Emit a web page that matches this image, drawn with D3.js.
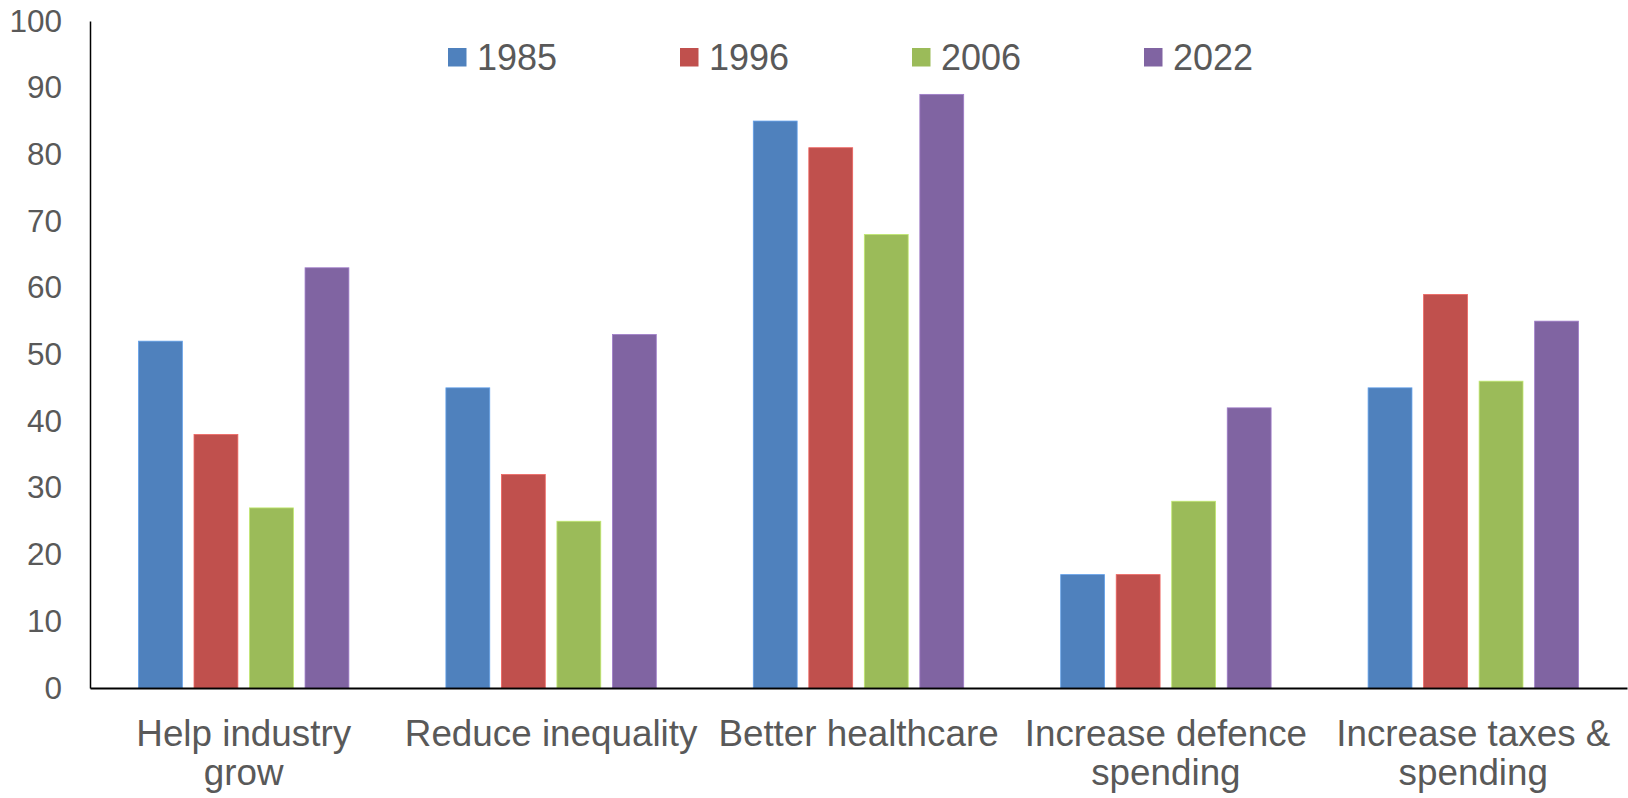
<!DOCTYPE html>
<html>
<head>
<meta charset="utf-8">
<script src="https://cdn.jsdelivr.net/npm/d3@7"></script>
<style>
  html, body { margin: 0; padding: 0; background: #fff; }
  svg { display: block; font-family: "Liberation Sans", Arial, sans-serif; }
</style>
</head>
<body>
<svg id="chart" width="1628" height="798"></svg>
<script>
// Survey categories (multi-line labels split on "|")
const categories = [
  "Help industry|grow",
  "Reduce inequality",
  "Better healthcare",
  "Increase defence|spending",
  "Increase taxes &|spending"
];
const years = ["1985", "1996", "2006", "2022"];
const values1985 = [52, 45, 85, 17, 45];
const values1996 = [38, 32, 81, 17, 59];
const values2006 = [27, 25, 68, 28, 46];
const values2022 = [63, 53, 89, 42, 55];
const yTicks = [0, 10, 20, 30, 40, 50, 60, 70, 80, 90, 100];
const colors = ["#4F81BD", "#C0504D", "#9BBB59", "#8064A2"];

const seriesValues = [values1985, values1996, values2006, values2022];
const rows = categories.map((c, i) => ({
  category: c,
  values: years.map((y, k) => ({ year: y, value: seriesValues[k][i] }))
}));

const svg = d3.select("#chart");
const plot = { left: 90, right: 1627, top: 21, bottom: 688 };

const x0 = d3.scaleBand()
  .domain(categories)
  .range([plot.left, plot.right])
  .padding(0);

const groupPad = 48.5;
const x1 = d3.scaleBand()
  .domain(years)
  .range([groupPad, x0.bandwidth() - groupPad])
  .paddingInner(0.21)
  .paddingOuter(0);

const y = d3.scaleLinear().domain([0, 100]).range([plot.bottom, plot.top]);
const color = d3.scaleOrdinal().domain(years).range(colors);

// Bars
const groups = svg.append("g").selectAll("g")
  .data(rows)
  .join("g")
  .attr("transform", d => `translate(${x0(d.category)},0)`);

groups.selectAll("rect")
  .data(d => d.values)
  .join("rect")
  .attr("x", d => x1(d.year))
  .attr("y", d => y(d.value))
  .attr("width", x1.bandwidth())
  .attr("height", d => y(0) - y(d.value))
  .attr("fill", d => color(d.year))
  .attr("stroke", d => d3.color(color(d.year)).brighter(0.6))
  .attr("stroke-width", 0.8);

// Y axis
const yAxis = d3.axisLeft(y).tickValues(yTicks).tickSize(0).tickPadding(28);
const gy = svg.append("g")
  .attr("transform", `translate(${plot.left},0)`)
  .call(yAxis);
gy.select(".domain").attr("stroke", "#000").attr("stroke-width", 1.5);
gy.selectAll(".tick text")
  .attr("fill", "#595959")
  .attr("font-size", "31.5px")
  .attr("font-family", "'Liberation Sans', Arial, sans-serif");

// X axis
const xAxis = d3.axisBottom(x0).tickSize(0).tickFormat("");
const gx = svg.append("g")
  .attr("transform", `translate(0,${plot.bottom})`)
  .call(xAxis);
gx.select(".domain").attr("stroke", "#000").attr("stroke-width", 2.2);

// Category labels
gx.selectAll(".tick").each(function(d) {
  const t = d3.select(this).append("text")
    .attr("fill", "#595959")
    .attr("font-size", "36.8px")
    .attr("text-anchor", "middle")
    .attr("font-family", "'Liberation Sans', Arial, sans-serif");
  d.split("|").forEach((line, i) => {
    t.append("tspan").attr("x", 0).attr("y", 58 + i * 39).text(line);
  });
});

// Legend
const legend = svg.append("g").attr("transform", "translate(448,48)");
const item = legend.selectAll("g")
  .data(years)
  .join("g")
  .attr("transform", (d, i) => `translate(${i * 232},0)`);
item.append("rect")
  .attr("width", 18.5)
  .attr("height", 18.5)
  .attr("fill", d => color(d));
item.append("text")
  .attr("x", 29)
  .attr("y", 21.5)
  .attr("fill", "#595959")
  .attr("font-size", "36px")
  .text(d => d);
</script>
</body>
</html>
